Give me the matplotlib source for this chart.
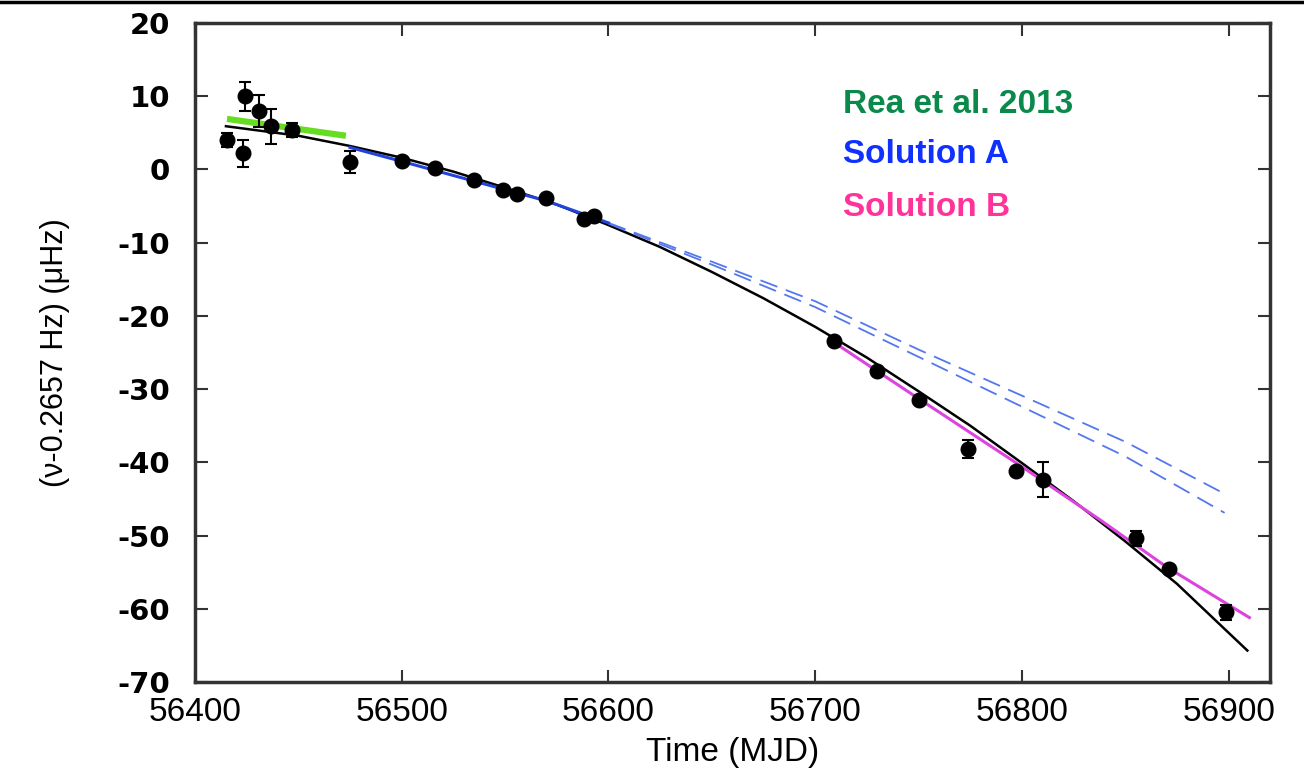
import numpy as np
import matplotlib.pyplot as plt
from matplotlib.lines import Line2D

plt.rcParams['axes.unicode_minus'] = False

# measured frequency offsets
t_obs = [56415.5, 56423, 56424, 56431, 56437, 56447, 56475, 56500, 56516, 56535,
         56549, 56556, 56570, 56588, 56593, 56709, 56730, 56750, 56774, 56797,
         56810, 56855, 56871, 56898.5]
nu_obs = [4.0, 2.2, 10.0, 8.0, 5.9, 5.4, 1.0, 1.1, 0.2, -1.5,
          -2.8, -3.4, -3.9, -6.8, -6.4, -23.4, -27.5, -31.5, -38.2, -41.2,
          -42.4, -50.4, -54.6, -60.5]
nu_err = [1.0, 1.8, 2.0, 2.2, 2.4, 1.0, 1.5, 0.4, 0.3, 0.3,
          0.3, 0.3, 0.3, 0.4, 0.4, 0.3, 0.3, 0.4, 1.2, 0.4,
          2.4, 1.0, 0.3, 1.0]

# overall fit (black)
t_fit = [56415, 56450, 56475, 56500, 56525, 56550, 56575, 56600, 56625, 56650,
         56675, 56700, 56725, 56750, 56775, 56800, 56825, 56850, 56875, 56909]
nu_fit = [5.9, 4.6, 3.2, 1.6, -0.3, -2.5, -4.8, -7.6, -10.6, -14.0,
          -17.6, -21.5, -25.7, -30.3, -35.0, -40.1, -45.3, -50.8, -56.6, -65.7]

# Rea et al. 2013 (green)
t_rea = [56415.5, 56473]
nu_rea = [6.9, 4.6]

# Solution A (blue), fitted part and two extrapolations
t_a = [56475, 56500, 56535, 56570, 56600]
nu_a = [3.0, 1.1, -1.6, -4.3, -7.3]
t_a_ext = [56600, 56650, 56700, 56750, 56800, 56850, 56898]
nu_a_ext1 = [-7.3, -12.6, -18.0, -24.6, -30.9, -37.2, -44.3]
nu_a_ext2 = [-7.4, -13.0, -18.8, -25.6, -32.4, -39.2, -46.9]

# Solution B (magenta)
t_b = [56709, 56750, 56800, 56838, 56870, 56910]
nu_b = [-23.6, -31.3, -40.6, -47.9, -54.3, -61.2]

fig = plt.figure(figsize=(13.04, 7.71), dpi=100)
ax = fig.add_axes([0.1495, 0.1154, 0.8245, 0.8548])

ax.plot(t_fit, nu_fit, color='black', lw=1.8, zorder=2)
ax.plot(t_rea, nu_rea, color='#66dd22', lw=4.5, solid_capstyle='butt', zorder=3)
ax.plot(t_a, nu_a, color='#2244dd', lw=2.2, zorder=3)
ax.plot(t_a_ext, nu_a_ext1, color='#5577ee', lw=1.3, ls=(0, (10, 5)), zorder=2)
ax.plot(t_a_ext, nu_a_ext2, color='#5577ee', lw=1.3, ls=(0, (10, 5)), zorder=2)
ax.plot(t_b, nu_b, color='#dd44dd', lw=2.2, zorder=3)
ax.errorbar(t_obs, nu_obs, yerr=nu_err, fmt='o', color='black', ms=10.5,
            elinewidth=1.5, capsize=4.5, capthick=1.5, zorder=4)

ax.set_xlim(56400, 56920)
ax.set_ylim(-70, 20)
ax.set_xticks(np.arange(56400, 56901, 100))
ax.set_yticks(np.arange(-70, 21, 10))

for s in ax.spines.values():
    s.set_linewidth(2.5)
    s.set_color('#333333')
ax.tick_params(direction='in', length=9, width=1.5, top=True, right=True, color='#333333')
ax.tick_params(axis='x', pad=11, labelsize=24)
ax.tick_params(axis='y', pad=18)
for lab in ax.get_yticklabels():
    lab.set_fontfamily('DejaVu Sans')
    lab.set_fontweight('bold')
    lab.set_fontsize(21)
for lab in ax.get_xticklabels():
    lab.set_fontfamily('Liberation Sans')

ax.set_xlabel('Time (MJD)', fontsize=24, family='Liberation Sans', labelpad=6)
ax.set_ylabel('(ν-0.2657 Hz) (μHz)', fontsize=22, family='Liberation Sans', labelpad=34)

ax.text(0.603, 0.877, 'Rea et al. 2013', transform=ax.transAxes, color='#0a8a4a',
        fontsize=24, fontweight='bold', family='Liberation Sans', va='center')
ax.text(0.603, 0.800, 'Solution A', transform=ax.transAxes, color='#1030ff',
        fontsize=24, fontweight='bold', family='Liberation Sans', va='center')
ax.text(0.603, 0.720, 'Solution B', transform=ax.transAxes, color='#ff3399',
        fontsize=24, fontweight='bold', family='Liberation Sans', va='center')

# thin frame edge at the very top of the picture
fig.add_artist(Line2D([0, 1], [0.998, 0.998], color='black', lw=2.5))

fig.savefig('out.png', dpi=100)
